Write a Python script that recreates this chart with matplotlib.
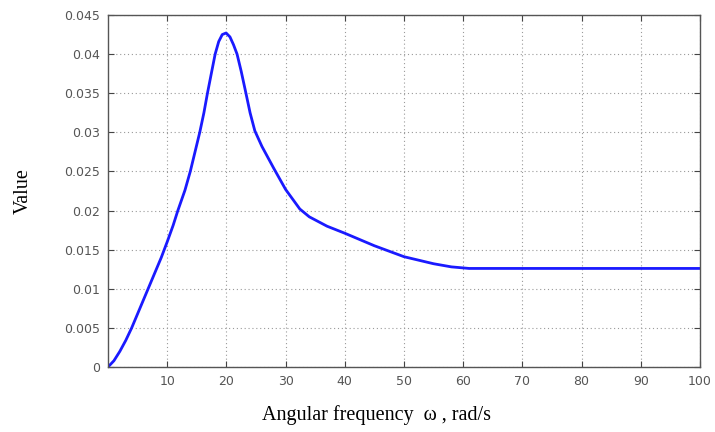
import matplotlib.pyplot as plt

# ── data ────────────────────────────────────────────────────────────
omega = [0, 1, 2, 3, 4, 5, 6, 7, 8, 9, 9.5, 10, 11, 11.8, 13, 13.9, 14.7,
         15.5, 16.2, 16.8, 17.5, 18.1, 18.7, 19.3, 19.95, 20.6, 21.2, 21.8,
         22.5, 23.3, 24.0, 24.8, 26, 28, 30, 32.4, 34, 37, 40, 45, 50, 55,
         58, 61, 70, 80, 90, 100]
value = [0, 0.0008, 0.0020, 0.0034, 0.0050, 0.0068, 0.0086, 0.0104, 0.0122,
         0.0140, 0.0150, 0.0160, 0.0181, 0.0200, 0.0226, 0.0250, 0.0275,
         0.0300, 0.0325, 0.0350, 0.0377, 0.0400, 0.0416, 0.0425, 0.0427,
         0.0422, 0.0412, 0.0400, 0.0378, 0.0350, 0.0325, 0.0302, 0.0282,
         0.0254, 0.0227, 0.0202, 0.0192, 0.0180, 0.0171, 0.0155, 0.0141,
         0.0132, 0.0128, 0.0126, 0.0126, 0.0126, 0.0126, 0.0126]

xticks = [10, 20, 30, 40, 50, 60, 70, 80, 90, 100]
yticks = [0, 0.005, 0.01, 0.015, 0.02, 0.025, 0.03, 0.035, 0.04, 0.045]
ytick_labels = ["0", "0.005", "0.01", "0.015", "0.02", "0.025", "0.03",
                "0.035", "0.04", "0.045"]

fig = plt.figure(figsize=(7.15, 4.32), dpi=100)
ax = fig.add_axes([108 / 715, 1 - 367 / 432, 592 / 715, 352 / 432])

ax.plot(omega, value, color="#1a1aff", linewidth=2.0)

ax.set_xlim(0, 100)
ax.set_ylim(0, 0.045)
ax.set_xticks(xticks)
ax.set_yticks(yticks)
ax.set_yticklabels(ytick_labels)

ax.grid(True, color="#9a9a9a", linestyle=(0, (1, 2.5)), linewidth=0.8)
ax.tick_params(direction="in", length=4, top=True, right=True,
               labelsize=9, labelcolor="#555555", color="#444444", pad=6)
for s in ax.spines.values():
    s.set_color("#555555")
    s.set_linewidth(1.0)

serif = ["Liberation Serif", "DejaVu Serif"]
ax.set_ylabel("Value", fontsize=14.5, family=serif, labelpad=22)
fig.text(377 / 715, 1 - 415 / 432, "Angular frequency  ω , rad/s",
         fontsize=14.5, family=serif, ha="center", va="center")

fig.savefig("out.png", dpi=100)
